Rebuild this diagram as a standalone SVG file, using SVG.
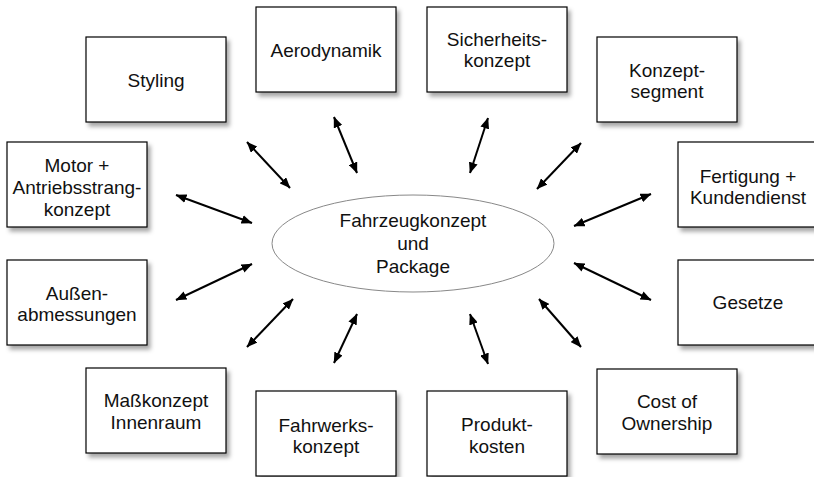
<svg xmlns="http://www.w3.org/2000/svg" width="814" height="477" viewBox="0 0 814 477">
<defs>
<filter id="sh" x="-10%" y="-10%" width="130%" height="140%">
<feDropShadow dx="3" dy="4" stdDeviation="2" flood-color="#000" flood-opacity="0.35"/>
</filter>
<marker id="ah" viewBox="0 0 11 9" refX="10.5" refY="4.5" markerWidth="11" markerHeight="9" markerUnits="userSpaceOnUse" orient="auto-start-reverse">
<path d="M0,0 L11,4.5 L0,9 z" fill="#000"/>
</marker>
</defs>
<style>
.box{fill:#fff;stroke:#000;stroke-width:1.2;filter:url(#sh)}
.t{font-family:"Liberation Sans",Arial,Helvetica,sans-serif;font-size:19px;fill:#111;text-anchor:middle}
.c{stroke:#000;stroke-width:2;fill:none;marker-start:url(#ah);marker-end:url(#ah)}
</style>
<rect width="814" height="477" fill="#fff"/>
<g id="connectors">
<line class="c" x1="247" y1="142" x2="290" y2="188"/>
<line class="c" x1="334" y1="117" x2="357" y2="173"/>
<line class="c" x1="488" y1="118" x2="470" y2="173"/>
<line class="c" x1="581" y1="143" x2="537" y2="189"/>
<line class="c" x1="176" y1="195" x2="252" y2="223"/>
<line class="c" x1="651" y1="194" x2="574" y2="226"/>
<line class="c" x1="252" y1="264" x2="176" y2="300"/>
<line class="c" x1="574" y1="263" x2="651" y2="300"/>
<line class="c" x1="293" y1="299" x2="247" y2="347"/>
<line class="c" x1="357" y1="314" x2="334" y2="363"/>
<line class="c" x1="470" y1="314" x2="488" y2="364"/>
<line class="c" x1="539" y1="299" x2="581" y2="347"/>
</g>
<g id="center">
<ellipse cx="413" cy="243.5" rx="141" ry="48.5" fill="#fff" stroke="#888" stroke-width="1"/>
<text class="t" x="413" y="227">Fahrzeugkonzept</text>
<text class="t" x="413" y="250">und</text>
<text class="t" x="413" y="272.5">Package</text>
</g>
<g id="styling">
<rect class="box" x="86" y="37" width="140" height="85"/>
<text class="t" x="156" y="87">Styling</text>
</g>
<g id="aerodynamik">
<rect class="box" x="256" y="7" width="140" height="85"/>
<text class="t" x="326" y="57">Aerodynamik</text>
</g>
<g id="sicherheit">
<rect class="box" x="427" y="7" width="140" height="85"/>
<text class="t" x="497" y="46">Sicherheits-</text>
<text class="t" x="497" y="67">konzept</text>
</g>
<g id="konzeptsegment">
<rect class="box" x="597" y="37" width="140" height="85"/>
<text class="t" x="667" y="76.5">Konzept-</text>
<text class="t" x="667" y="98">segment</text>
</g>
<g id="motor">
<rect class="box" x="7" y="142" width="140" height="85"/>
<text class="t" x="77" y="172">Motor +</text>
<text class="t" x="77" y="194">Antriebsstrang-</text>
<text class="t" x="77" y="216">konzept</text>
</g>
<g id="fertigung">
<rect class="box" x="678" y="142" width="140" height="85"/>
<text class="t" x="748" y="182.5">Fertigung +</text>
<text class="t" x="748" y="204">Kundendienst</text>
</g>
<g id="aussen">
<rect class="box" x="7" y="260" width="140" height="85"/>
<text class="t" x="77" y="299.5">Außen-</text>
<text class="t" x="77" y="321">abmessungen</text>
</g>
<g id="gesetze">
<rect class="box" x="678" y="260" width="140" height="85"/>
<text class="t" x="748" y="309">Gesetze</text>
</g>
<g id="masskonzept">
<rect class="box" x="86" y="368" width="140" height="85"/>
<text class="t" x="156" y="407">Maßkonzept</text>
<text class="t" x="156" y="429">Innenraum</text>
</g>
<g id="fahrwerk">
<rect class="box" x="256" y="391" width="140" height="85"/>
<text class="t" x="326" y="432">Fahrwerks-</text>
<text class="t" x="326" y="452.5">konzept</text>
</g>
<g id="produktkosten">
<rect class="box" x="427" y="391" width="140" height="85"/>
<text class="t" x="497" y="431">Produkt-</text>
<text class="t" x="497" y="452.5">kosten</text>
</g>
<g id="cost">
<rect class="box" x="597" y="369" width="140" height="85"/>
<text class="t" x="667" y="408">Cost of</text>
<text class="t" x="667" y="429.5">Ownership</text>
</g>
</svg>
